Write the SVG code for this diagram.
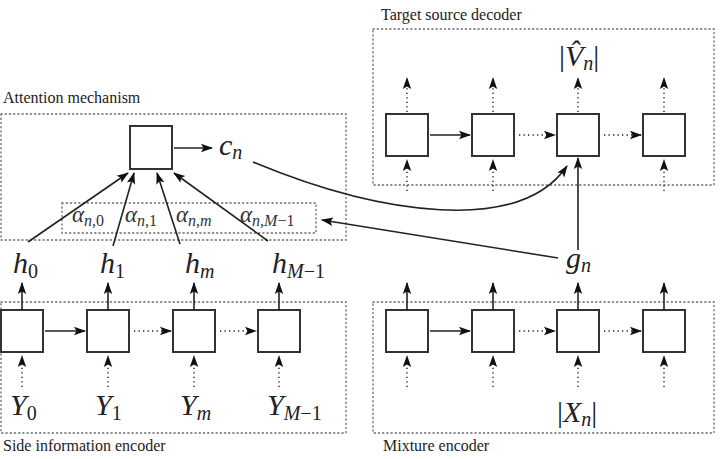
<svg xmlns="http://www.w3.org/2000/svg" width="723" height="459" viewBox="0 0 723 459">
<defs>
<marker id="ah" markerUnits="userSpaceOnUse" markerWidth="12" markerHeight="10" viewBox="0 0 12 10" refX="11" refY="5" orient="auto">
<path d="M0,0.8 L12,5 L0,9.2 L2.5,5 z" fill="#111"/>
</marker>
</defs>
<rect x="0" y="0" width="723" height="459" fill="#fff"/>

<g id="attention-group">
<rect x="1" y="114" width="345" height="126" fill="none" stroke="#666" stroke-width="1.3" stroke-dasharray="1.2 3" stroke-linecap="round"/>
<text x="3" y="103" font-family="Liberation Serif" font-size="16" fill="#222">Attention mechanism</text>
</g>
<g id="alpha-group">
<rect x="62" y="203" width="254" height="30" fill="none" stroke="#666" stroke-width="1.3" stroke-dasharray="1.2 3" stroke-linecap="round"/>
<text x="72" y="222" font-family="Liberation Serif" font-style="italic" fill="#333" font-size="23">α<tspan font-size="16" dy="4">n<tspan font-style="normal">,0</tspan></tspan></text>
<text x="125" y="222" font-family="Liberation Serif" font-style="italic" fill="#333" font-size="23">α<tspan font-size="16" dy="4">n<tspan font-style="normal">,1</tspan></tspan></text>
<text x="176" y="222" font-family="Liberation Serif" font-style="italic" fill="#333" font-size="23">α<tspan font-size="16" dy="4">n<tspan font-style="normal">,</tspan>m</tspan></text>
<text x="240" y="222" font-family="Liberation Serif" font-style="italic" fill="#333" font-size="23">α<tspan font-size="16" dy="4">n<tspan font-style="normal">,</tspan>M<tspan font-style="normal">−1</tspan></tspan></text>
</g>
<g id="side-encoder-group">
<rect x="1" y="302" width="345" height="131" fill="none" stroke="#666" stroke-width="1.3" stroke-dasharray="1.2 3" stroke-linecap="round"/>
<text x="3" y="451" font-family="Liberation Serif" font-size="16" fill="#222">Side information encoder</text>
</g>
<g id="mixture-encoder-group">
<rect x="373" y="302" width="341" height="131" fill="none" stroke="#666" stroke-width="1.3" stroke-dasharray="1.2 3" stroke-linecap="round"/>
<text x="383" y="451" font-family="Liberation Serif" font-size="16" fill="#222">Mixture encoder</text>
</g>
<g id="decoder-group">
<rect x="373" y="29" width="341" height="156" fill="none" stroke="#666" stroke-width="1.3" stroke-dasharray="1.2 3" stroke-linecap="round"/>
<text x="381" y="20" font-family="Liberation Serif" font-size="16" fill="#222">Target source decoder</text>
</g>

<g id="cells" fill="#fff" stroke="#333" stroke-width="2">
<g id="attention-node"><rect x="130" y="126" width="42" height="43"/></g>
<g id="s0"><rect x="1" y="310" width="42" height="42"/></g>
<g id="s1"><rect x="87" y="310" width="42" height="42"/></g>
<g id="s2"><rect x="173" y="310" width="42" height="42"/></g>
<g id="s3"><rect x="258" y="310" width="42" height="42"/></g>
<g id="x0"><rect x="386" y="310" width="42" height="42"/></g>
<g id="x1"><rect x="472" y="310" width="42" height="42"/></g>
<g id="x2"><rect x="557" y="310" width="42" height="42"/></g>
<g id="x3"><rect x="643" y="310" width="42" height="42"/></g>
<g id="d0"><rect x="386" y="114" width="42" height="42"/></g>
<g id="d1"><rect x="472" y="114" width="42" height="42"/></g>
<g id="d2"><rect x="557" y="114" width="42" height="42"/></g>
<g id="d3"><rect x="643" y="114" width="42" height="42"/></g>
</g>

<g id="labels" fill="#222" font-family="Liberation Serif" font-style="italic" font-size="30">
<text x="13" y="273">h<tspan font-style="normal" font-size="20" dy="5">0</tspan></text>
<text x="100" y="273">h<tspan font-style="normal" font-size="20" dy="5">1</tspan></text>
<text x="185" y="273">h<tspan font-size="20" dy="5">m</tspan></text>
<text x="272" y="273">h<tspan font-size="20" dy="5">M<tspan font-style="normal">−1</tspan></tspan></text>
<text x="10" y="415">Y<tspan font-style="normal" font-size="20" dy="5">0</tspan></text>
<text x="95" y="415">Y<tspan font-style="normal" font-size="20" dy="5">1</tspan></text>
<text x="180" y="415">Y<tspan font-size="20" dy="5">m</tspan></text>
<text x="267" y="415">Y<tspan font-size="20" dy="5">M<tspan font-style="normal">−1</tspan></tspan></text>
<text x="219" y="155">c<tspan font-size="20" dy="4">n</tspan></text>
<text x="566" y="268">g<tspan font-size="20" dy="4">n</tspan></text>
<text x="557" y="422"><tspan font-style="normal">|</tspan>X<tspan font-size="20" dy="4">n</tspan><tspan font-style="normal" dy="-4">|</tspan></text>
<text x="559" y="66"><tspan font-style="normal">|</tspan>V̂<tspan font-size="20" dy="4">n</tspan><tspan font-style="normal" dy="-4">|</tspan></text>
</g>

<g id="connectors" fill="none" stroke="#222" stroke-width="1.6">
<line x1="174" y1="148" x2="212" y2="148" marker-end="url(#ah)"/>
<line x1="28" y1="242" x2="128" y2="173" marker-end="url(#ah)"/>
<line x1="113" y1="246" x2="134" y2="173" marker-end="url(#ah)"/>
<line x1="180" y1="244" x2="157" y2="173" marker-end="url(#ah)"/>
<line x1="268" y1="241" x2="174" y2="173" marker-end="url(#ah)"/>
<path d="M253,162 C380,215 520,235 567,166" marker-end="url(#ah)"/>
<line x1="558" y1="258" x2="322" y2="220" marker-end="url(#ah)"/>
<line x1="578" y1="250" x2="578" y2="158" marker-end="url(#ah)"/>

<line x1="22" y1="310" x2="22" y2="283" marker-end="url(#ah)"/>
<line x1="108" y1="310" x2="108" y2="283" marker-end="url(#ah)"/>
<line x1="194" y1="310" x2="194" y2="283" marker-end="url(#ah)"/>
<line x1="279" y1="310" x2="279" y2="283" marker-end="url(#ah)"/>
<line x1="407" y1="310" x2="407" y2="283" marker-end="url(#ah)"/>
<line x1="493" y1="310" x2="493" y2="283" marker-end="url(#ah)"/>
<line x1="578" y1="310" x2="578" y2="283" marker-end="url(#ah)"/>
<line x1="664" y1="310" x2="664" y2="283" marker-end="url(#ah)"/>
<line x1="45" y1="331" x2="85" y2="331" marker-end="url(#ah)"/>
<line x1="430" y1="331" x2="470" y2="331" marker-end="url(#ah)"/>
<line x1="430" y1="135" x2="470" y2="135" marker-end="url(#ah)"/>

<g stroke-width="1.4" stroke-dasharray="1.3 3.2">
<line x1="134" y1="331" x2="171" y2="331" marker-end="url(#ah)"/>
<line x1="220" y1="331" x2="256" y2="331" marker-end="url(#ah)"/>
<line x1="519" y1="331" x2="555" y2="331" marker-end="url(#ah)"/>
<line x1="604" y1="331" x2="641" y2="331" marker-end="url(#ah)"/>
<line x1="519" y1="135" x2="555" y2="135" marker-end="url(#ah)"/>
<line x1="604" y1="135" x2="641" y2="135" marker-end="url(#ah)"/>
<line x1="22" y1="387" x2="22" y2="356" marker-end="url(#ah)"/>
<line x1="108" y1="387" x2="108" y2="356" marker-end="url(#ah)"/>
<line x1="194" y1="387" x2="194" y2="356" marker-end="url(#ah)"/>
<line x1="279" y1="387" x2="279" y2="356" marker-end="url(#ah)"/>
<line x1="407" y1="387" x2="407" y2="356" marker-end="url(#ah)"/>
<line x1="493" y1="387" x2="493" y2="356" marker-end="url(#ah)"/>
<line x1="578" y1="387" x2="578" y2="356" marker-end="url(#ah)"/>
<line x1="664" y1="387" x2="664" y2="356" marker-end="url(#ah)"/>
<line x1="407" y1="112" x2="407" y2="78" marker-end="url(#ah)"/>
<line x1="493" y1="112" x2="493" y2="78" marker-end="url(#ah)"/>
<line x1="578" y1="112" x2="578" y2="78" marker-end="url(#ah)"/>
<line x1="664" y1="112" x2="664" y2="78" marker-end="url(#ah)"/>
<line x1="407" y1="191" x2="407" y2="160" marker-end="url(#ah)"/>
<line x1="493" y1="191" x2="493" y2="160" marker-end="url(#ah)"/>
<line x1="664" y1="191" x2="664" y2="160" marker-end="url(#ah)"/>
</g>
</g>
</svg>
